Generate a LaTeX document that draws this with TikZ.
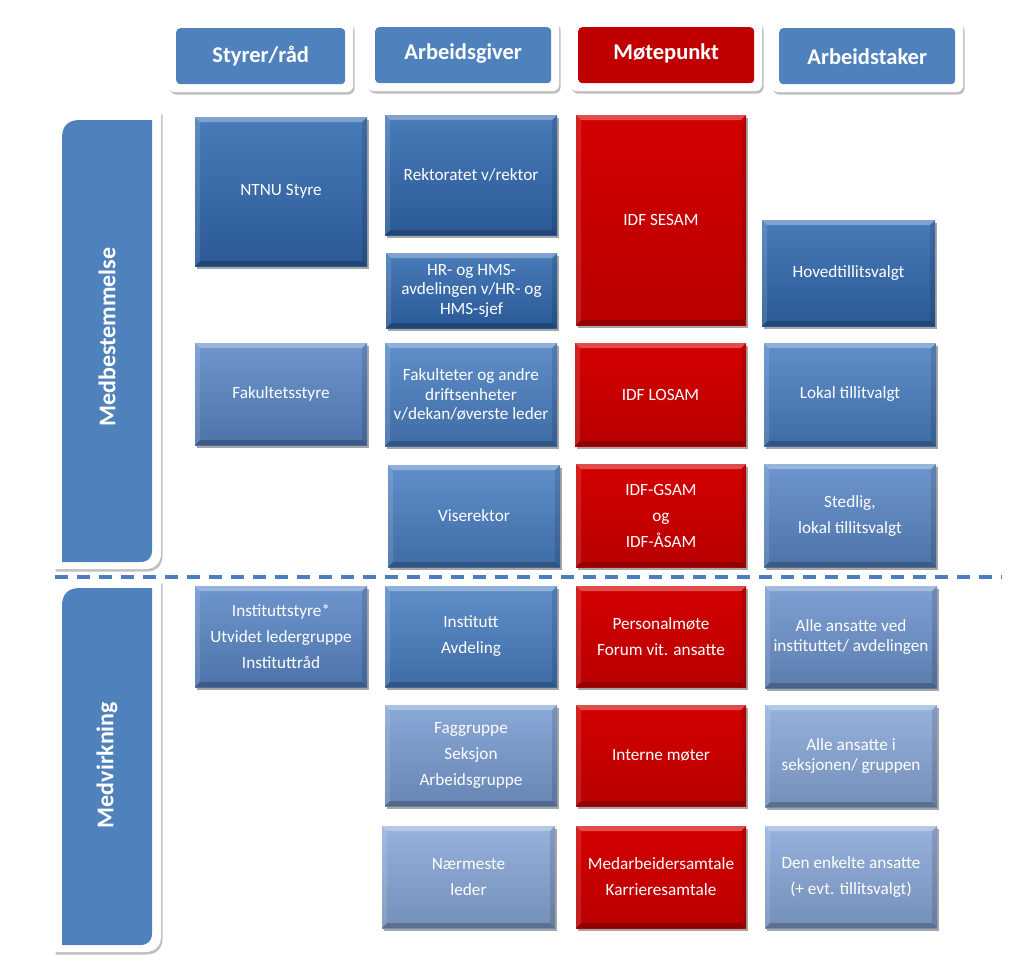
\documentclass[tikz,border=0pt]{standalone}
\usepackage{fontspec}
\setmainfont{Carlito}
\usetikzlibrary{shadows,calc}
\definecolor{hdrblue}{HTML}{4F81BD}
\definecolor{hdrred}{HTML}{C00000}
\definecolor{boxred}{HTML}{CC0000}
\definecolor{dA}{HTML}{3169B0}
\definecolor{cB}{HTML}{4A7FC2}
\definecolor{cC}{HTML}{5A88C7}
\definecolor{cD}{HTML}{6C93CD}
\definecolor{cE}{HTML}{7A9DD2}
\definecolor{cF}{HTML}{88A8D8}
\definecolor{redtop}{HTML}{D40000}
\definecolor{redbot}{HTML}{B80000}
\definecolor{dashblue}{HTML}{4A7EBF}
\tikzset{
  shad/.style={drop shadow={opacity=0.35, shadow xshift=2pt, shadow yshift=-3pt, fill=black}},
  bx/.style={anchor=north west, align=center, text=white, inner sep=1pt, outer sep=0pt, shad},
  one/.style={font=\fontsize{17.2}{19.5}\selectfont},
  two/.style={font=\fontsize{17.2}{26}\selectfont},
  redbox/.style={top color=redtop, bottom color=redbot},
  hdrframe/.style={anchor=north west, fill=white, rounded corners=7pt, inner sep=0pt,
    drop shadow={opacity=0.25, shadow xshift=1.5pt, shadow yshift=-2.5pt, fill=black}},
  hdrbox/.style={anchor=north west, rounded corners=4pt, text=white, inner sep=0pt,
    font=\bfseries\fontsize{22.5}{26}\selectfont},
  sidelabel/.style={rotate=90, text=white, font=\bfseries\fontsize{24}{28}\selectfont},
  divider/.style={draw=dashblue, line width=3.5pt, dash pattern=on 13pt off 9pt},
}
\newcommand\bevel[1]{%
  \fill[white,opacity=.30] (#1.north west) -- (#1.north east) -- ([shift={(-5pt,-5pt)}]#1.north east) -- ([shift={(5pt,-5pt)}]#1.north west) -- cycle;
  \fill[white,opacity=.12] (#1.north west) -- ([shift={(5pt,-5pt)}]#1.north west) -- ([shift={(5pt,5pt)}]#1.south west) -- (#1.south west) -- cycle;
  \fill[black,opacity=.12] (#1.north east) -- ([shift={(-5pt,-5pt)}]#1.north east) -- ([shift={(-5pt,5pt)}]#1.south east) -- (#1.south east) -- cycle;
  \fill[black,opacity=.22] (#1.south west) -- (#1.south east) -- ([shift={(-5pt,5pt)}]#1.south east) -- ([shift={(5pt,5pt)}]#1.south west) -- cycle;
}
\newcommand\bx[8]{%
  \node[bx,top color=#6!88!white,bottom color=#6!85!black,#7,minimum width=#4pt,minimum height=#5pt] (#1) at (#2,#3) {#8};
  \bevel{#1}%
}
\newcommand\hdr[6]{%
  \node[hdrframe,minimum width=#4pt+16pt,minimum height=#5pt+14pt] (#1f) at (#2-8,#3-6) {};
  \node[hdrbox,fill=#6,minimum width=#4pt,minimum height=#5pt] (#1) at (#2,#3) {};
}
\begin{document}
\begin{tikzpicture}[x=1pt,y=-1pt]
\useasboundingbox[fill=white] (0,0) rectangle (1024,966);

% headers
\hdr{h1}{176}{28}{169}{56}{hdrblue}
\node[hdrbox,anchor=center] (h1t) at (h1.center) {Styrer/råd};
\hdr{h2}{375}{27}{176}{56}{hdrblue}
\node[hdrbox,anchor=center] (h2t) at ([yshift=2pt]h2.center) {Arbeidsgiver};
\hdr{h3}{578}{27}{176}{56}{hdrred}
\node[hdrbox,anchor=center] (h3t) at ([yshift=2pt]h3.center) {Møtepunkt};
\hdr{h4}{779}{28}{176}{56}{hdrblue}
\node[hdrbox,anchor=center] (h4t) at (h4.center) {Arbeidstaker};

% side bars
\fill[white,drop shadow={opacity=0.25, shadow xshift=1.5pt, shadow yshift=-2.5pt, fill=black}]
  (54,569) -- (54,135) .. controls (54,121) and (63,112) .. (77,112) -- (161,112) -- (161,553) .. controls (161,563) and (155,569) .. (145,569) -- cycle;
\fill[hdrblue] (62,562) -- (62,138) .. controls (62,126) and (68,120) .. (80,120) -- (152,120) -- (152,550) .. controls (152,558) and (148,562) .. (140,562) -- cycle;
\node[sidelabel] (m1) at (107,337) {Medbestemmelse};

\fill[white,drop shadow={opacity=0.25, shadow xshift=1.5pt, shadow yshift=-2.5pt, fill=black}]
  (54,952) -- (54,603) .. controls (54,589) and (63,581) .. (77,581) -- (161,581) -- (161,936) .. controls (161,946) and (155,952) .. (145,952) -- cycle;
\fill[hdrblue] (62,945) -- (62,606) .. controls (62,594) and (68,588) .. (80,588) -- (152,588) -- (152,933) .. controls (152,941) and (148,945) .. (140,945) -- cycle;
\node[sidelabel] (m2) at (107,765) {Medvirkning};

% divider
\coordinate (dl) at (55,577);
\coordinate (dr) at (1002,577);
\draw[divider] (dl) -- (dr);

% column 1
\bx{ntnu}{195}{117}{172}{149}{dA}{one}{NTNU Styre}
\bx{fak}{195}{343}{172}{102}{cC}{one}{Fakultetsstyre}
\bx{inst}{195}{586}{172}{101}{cC}{two}{Instituttstyre*\\Utvidet ledergruppe\\Instituttråd}

% column 2
\bx{rekt}{385}{115}{172}{120}{dA}{one}{Rektoratet v/rektor}
\bx{hr}{386}{253}{171}{75}{dA}{one}{HR- og HMS-\\avdelingen v/HR- og\\HMS-sjef}
\bx{fakul}{385}{343}{172}{103}{cB}{one}{Fakulteter og andre\\driftsenheter\\v/dekan/øverste leder}
\bx{vise}{388}{465}{172}{102}{cB}{one}{Viserektor}
\bx{instav}{385}{586}{172}{101}{cB}{two}{Institutt\\Avdeling}
\bx{fagg}{385}{705}{172}{101}{cE}{two}{Faggruppe\\Seksjon\\Arbeidsgruppe}
\bx{naer}{382}{826}{173}{102}{cF}{two}{Nærmeste\\leder}

% column 3
\bx{sesam}{576}{115}{170}{210}{boxred}{one,redbox}{IDF SESAM}
\bx{losam}{575}{343}{171}{103}{boxred}{one,redbox}{IDF LOSAM}
\bx{gsam}{576}{464}{170}{103}{boxred}{two,redbox}{IDF-GSAM\\og\\IDF-ÅSAM}
\bx{pers}{576}{586}{170}{101}{boxred}{two,redbox}{Personalmøte\\Forum vit. ansatte}
\bx{intm}{576}{705}{170}{101}{boxred}{one,redbox}{Interne møter}
\bx{medarb}{576}{826}{170}{102}{boxred}{two,redbox}{Medarbeidersamtale\\Karrieresamtale}

% column 4
\bx{hoved}{762}{220}{173}{106}{dA}{one}{Hovedtillitsvalgt}
\bx{lokal}{764}{343}{172}{103}{cB}{one}{Lokal tillitvalgt}
\bx{sted}{764}{464}{172}{103}{cC}{two}{Stedlig,\\lokal tillitsvalgt}
\bx{alleved}{765}{586}{172}{102}{cD}{one}{Alle ansatte ved\\instituttet/ avdelingen}
\bx{allei}{765}{705}{172}{102}{cF}{one}{Alle ansatte i\\seksjonen/ gruppen}
\bx{enk}{765}{826}{172}{102}{cF}{two}{Den enkelte ansatte\\(+ evt. tillitsvalgt)}
\end{tikzpicture}
\end{document}
